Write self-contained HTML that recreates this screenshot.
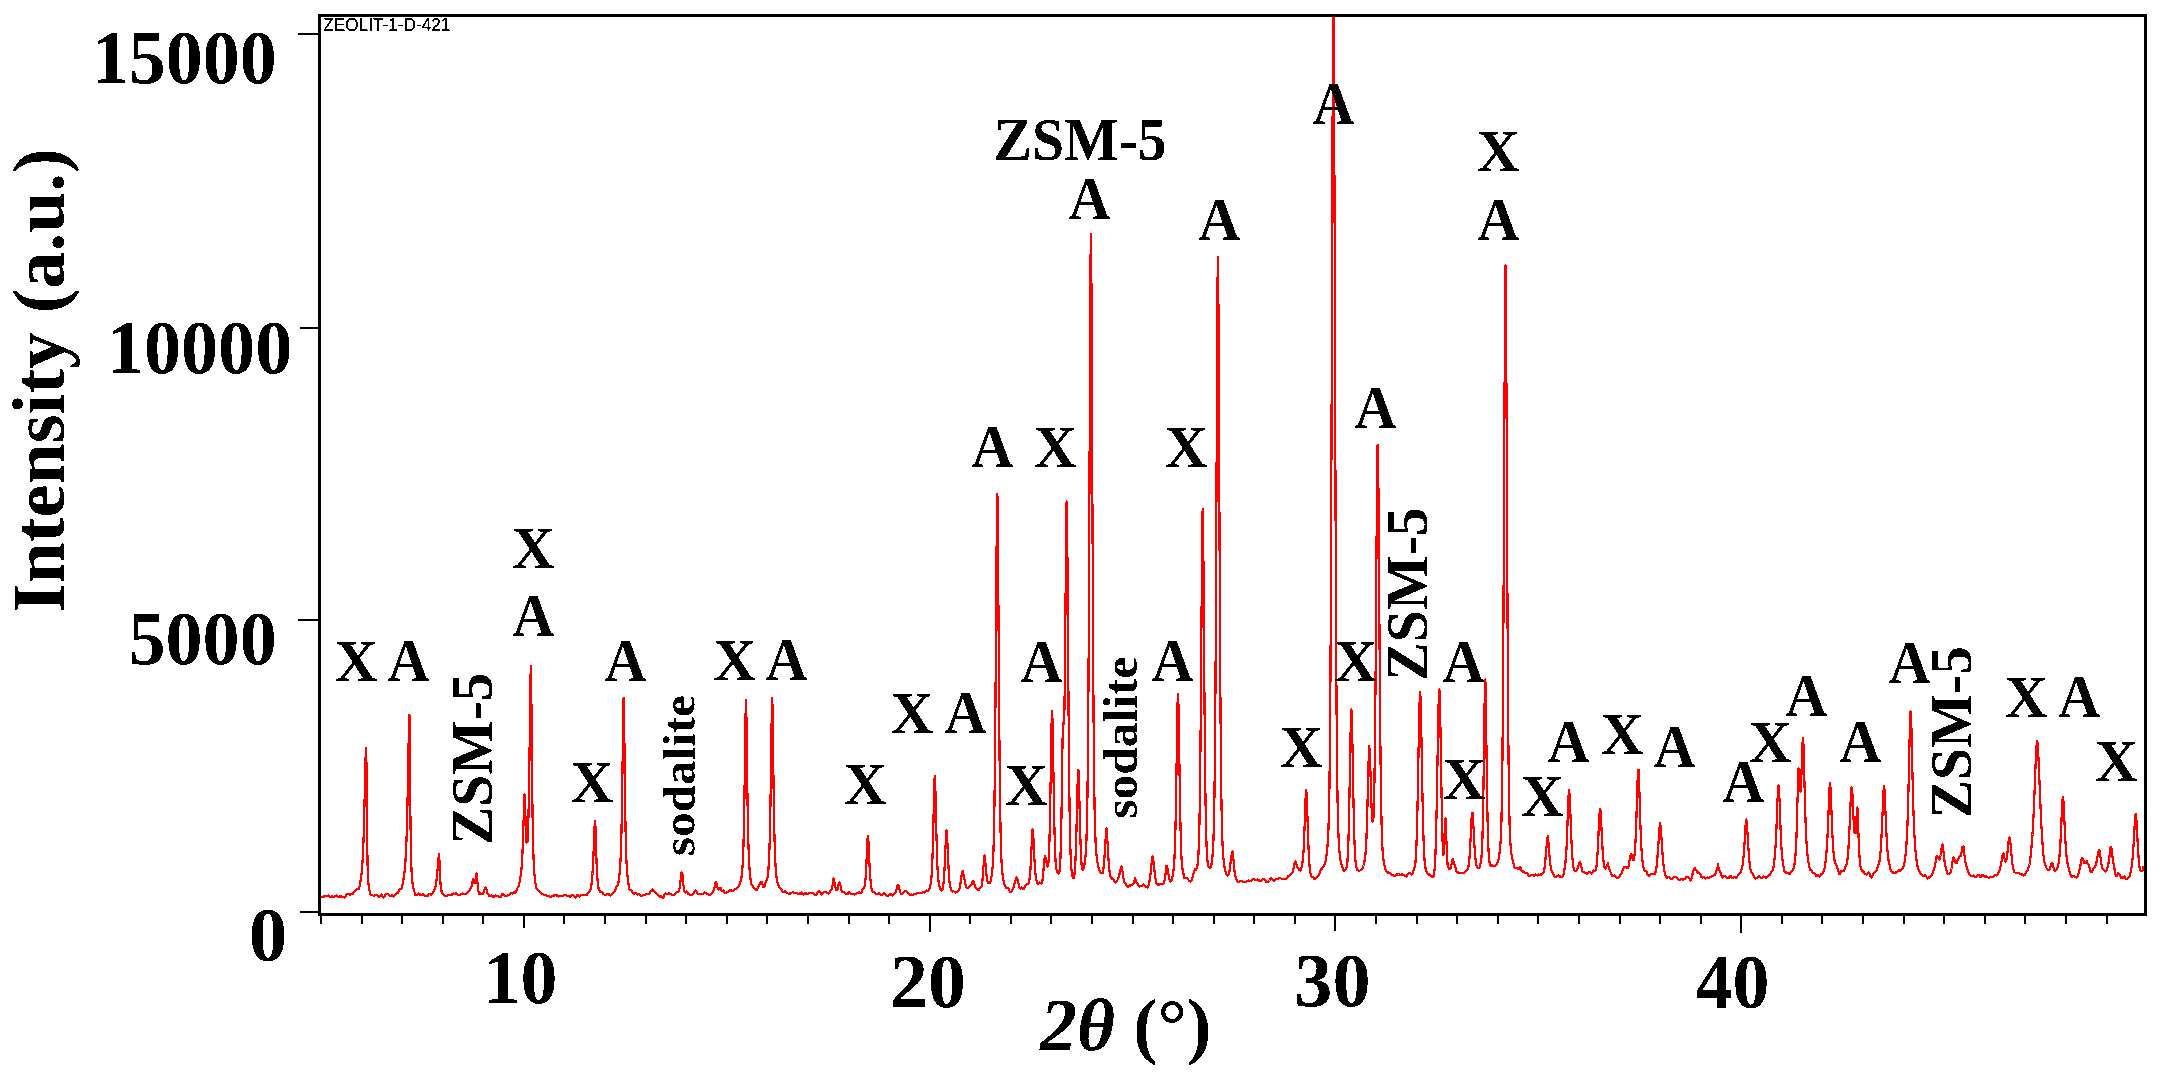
<!DOCTYPE html>
<html><head><meta charset="utf-8"><title>XRD pattern ZEOLIT-1-D-421</title>
<style>html,body{margin:0;padding:0;background:#fff}svg{display:block}
text{fill:#000}</style></head>
<body><svg width="2166" height="1082" viewBox="0 0 2166 1082">
<rect width="2166" height="1082" fill="#fff"/>
<clipPath id="pc"><rect x="321" y="17" width="1823" height="896"/></clipPath>
<polyline clip-path="url(#pc)" fill="none" stroke="#f00" stroke-width="2.2" stroke-linejoin="round" shape-rendering="crispEdges" points="321.5,897.8 322.5,896.9 323.5,896.6 324.5,896.7 325.5,896.2 326.5,896.3 327.5,895.9 328.5,895.6 329.5,897.0 330.5,897.3 331.5,896.3 332.5,896.5 333.5,896.9 334.5,896.5 335.5,895.7 336.5,895.5 337.5,896.5 338.5,897.0 339.5,896.2 340.5,896.0 341.5,897.2 342.5,896.9 343.5,896.8 344.5,897.6 345.5,896.1 346.5,894.4 347.5,893.7 348.5,893.8 349.5,894.9 350.5,894.6 351.5,894.2 352.5,894.0 353.5,892.9 354.5,891.8 355.5,890.3 356.5,889.1 357.5,888.9 358.5,889.2 359.5,886.9 360.5,881.4 361.5,874.2 362.5,862.3 363.5,840.7 364.5,804.1 365.5,759.0 366.2,748.1 366.5,768.2 367.5,863.1 368.5,884.7 369.5,890.7 370.5,894.4 371.5,895.3 372.5,895.3 373.5,895.7 374.5,895.6 375.5,895.0 376.5,895.0 377.5,895.9 378.5,896.8 379.5,897.0 380.5,895.6 381.5,894.5 382.5,896.0 383.5,897.4 384.5,896.1 385.5,894.6 386.5,894.2 387.5,894.4 388.5,894.5 389.5,895.1 390.5,896.0 391.5,895.6 392.5,895.5 393.5,896.5 394.5,896.0 395.5,894.4 396.5,893.7 397.5,893.2 398.5,891.1 399.5,889.2 400.5,889.3 401.5,888.3 402.5,884.6 403.5,879.2 404.5,872.3 405.5,860.7 406.5,839.9 407.5,803.1 408.5,747.7 409.4,714.9 409.5,718.4 410.5,825.2 411.5,870.8 412.5,883.3 413.5,888.2 414.5,892.0 415.5,895.1 416.5,895.2 417.5,894.1 418.5,893.6 419.5,894.0 420.5,895.0 421.5,894.9 422.5,894.2 423.5,894.6 424.5,895.3 425.5,896.0 426.5,896.3 427.5,896.1 428.5,894.8 429.5,894.1 430.5,894.6 431.5,894.9 432.5,893.3 433.5,891.1 434.5,889.7 435.5,886.8 436.5,880.2 437.5,870.1 438.5,858.1 439.0,854.3 439.5,861.9 440.5,883.9 441.5,891.1 442.5,893.4 443.5,895.0 444.5,895.6 445.5,895.9 446.5,896.3 447.5,895.7 448.5,894.9 449.5,894.7 450.5,895.0 451.5,895.0 452.5,894.0 453.5,893.6 454.5,894.3 455.5,893.6 456.5,893.5 457.5,894.7 458.5,895.3 459.5,895.4 460.5,894.7 461.5,893.7 462.5,893.6 463.5,894.1 464.5,894.3 465.5,893.9 466.5,893.3 467.5,892.7 468.5,891.9 469.5,890.4 470.5,888.9 471.5,886.2 472.5,882.2 472.8,879.3 473.5,881.1 474.5,883.2 475.5,879.4 476.5,873.1 477.5,883.2 478.5,891.4 479.5,894.2 480.5,893.6 481.5,894.2 482.5,894.3 483.5,892.1 484.5,889.1 485.5,887.5 486.5,889.8 487.5,893.3 488.5,895.0 489.5,896.0 490.5,896.2 491.5,895.5 492.5,895.9 493.5,897.0 494.5,896.4 495.5,895.5 496.5,895.9 497.5,896.1 498.5,896.3 499.5,896.9 500.5,897.1 501.5,895.7 502.5,893.7 503.5,894.1 504.5,895.5 505.5,896.0 506.5,896.2 507.5,895.5 508.5,894.8 509.5,894.9 510.5,893.3 511.5,892.8 512.5,893.6 513.5,892.6 514.5,892.5 515.5,892.7 516.5,890.3 517.5,888.0 518.5,886.4 519.5,882.4 520.5,876.7 521.5,869.0 522.5,852.8 523.5,823.2 524.5,795.8 524.6,794.4 525.5,818.8 526.5,842.9 527.5,841.4 528.5,815.8 529.5,756.1 530.5,677.0 530.9,665.6 531.5,709.4 532.5,813.2 533.5,858.0 534.5,875.3 535.5,883.7 536.5,888.3 537.5,889.8 538.5,890.3 539.5,891.2 540.5,892.9 541.5,893.9 542.5,893.8 543.5,894.4 544.5,895.3 545.5,895.0 546.5,895.1 547.5,896.0 548.5,896.1 549.5,896.4 550.5,897.3 551.5,897.0 552.5,895.7 553.5,895.4 554.5,895.8 555.5,895.1 556.5,894.8 557.5,896.2 558.5,896.8 559.5,896.1 560.5,895.9 561.5,896.4 562.5,896.0 563.5,895.1 564.5,894.8 565.5,895.2 566.5,895.7 567.5,896.0 568.5,896.3 569.5,896.6 570.5,896.6 571.5,895.6 572.5,894.9 573.5,895.7 574.5,896.9 575.5,897.4 576.5,896.2 577.5,894.7 578.5,895.8 579.5,896.9 580.5,895.9 581.5,895.0 582.5,895.0 583.5,894.9 584.5,895.0 585.5,895.2 586.5,895.2 587.5,893.9 588.5,892.1 589.5,891.5 590.5,889.4 591.5,883.9 592.5,873.5 593.5,854.2 594.5,827.2 595.0,821.2 595.5,827.2 596.5,861.2 597.5,880.2 598.5,888.1 599.5,891.0 600.5,892.0 601.5,891.7 602.5,892.3 603.5,894.2 604.5,894.8 605.5,894.8 606.5,894.8 607.5,893.6 608.5,893.6 609.5,895.2 610.5,895.5 611.5,894.6 612.5,893.8 613.5,892.3 614.5,891.1 615.5,889.2 616.5,886.8 617.5,885.4 618.5,882.2 619.5,874.6 620.5,861.2 621.5,831.9 622.5,769.3 623.5,698.3 623.7,698.0 624.5,748.6 625.5,828.2 626.5,862.8 627.5,875.7 628.5,883.8 629.5,889.2 630.5,890.0 631.5,890.4 632.5,892.4 633.5,893.8 634.5,893.6 635.5,892.8 636.5,893.2 637.5,894.6 638.5,894.3 639.5,894.0 640.5,895.7 641.5,896.1 642.5,895.2 643.5,895.0 644.5,895.0 645.5,894.1 646.5,893.8 647.5,894.1 648.5,893.8 649.5,893.3 650.5,892.0 651.5,890.1 652.4,889.3 652.5,890.4 653.5,891.0 654.5,891.8 655.5,892.9 656.5,893.4 657.5,894.3 658.5,895.5 659.5,896.6 660.5,896.6 661.5,896.3 662.5,897.8 663.5,897.8 664.5,894.8 665.5,893.1 666.5,894.1 667.5,894.1 668.5,893.1 669.5,893.9 670.5,894.4 671.5,894.2 672.5,895.2 673.5,895.3 674.5,894.4 675.5,893.7 676.5,892.8 677.5,891.9 678.5,891.5 679.5,889.0 680.5,881.6 681.5,872.0 681.9,872.6 682.5,874.9 683.5,885.6 684.5,891.7 685.5,892.4 686.5,891.4 687.5,892.3 688.5,894.1 689.5,894.6 690.5,894.8 691.5,895.1 692.5,894.3 693.5,893.5 694.5,892.0 695.5,890.6 696.5,891.6 697.5,893.3 698.5,894.0 699.5,894.2 700.5,894.1 701.5,894.4 702.5,894.3 703.5,893.4 704.5,892.6 705.5,892.8 706.5,893.9 707.5,894.3 708.5,894.6 709.5,895.3 710.5,894.7 711.5,893.5 712.5,892.2 713.5,890.1 714.5,887.6 715.5,882.6 716.0,881.8 716.5,883.1 717.5,887.7 718.5,889.5 719.5,889.2 720.5,887.9 721.5,890.9 722.5,890.7 723.5,890.6 724.5,892.3 725.5,893.3 726.5,892.6 727.5,892.3 728.5,891.7 729.5,890.2 730.5,890.1 731.5,890.9 732.5,891.3 733.5,890.6 734.5,889.7 735.5,889.2 736.5,888.4 737.5,887.9 738.5,886.6 739.5,884.4 740.5,881.7 741.5,877.2 742.5,867.2 743.5,844.9 744.5,794.7 745.5,717.4 746.0,699.9 746.5,720.4 747.5,800.2 748.5,848.0 749.5,868.7 750.5,879.4 751.5,884.5 752.5,885.8 753.5,887.0 754.5,888.4 755.5,889.5 756.5,890.3 757.5,889.0 758.5,886.3 759.5,884.7 760.5,882.7 761.2,882.5 761.5,881.7 762.5,884.4 763.5,887.4 764.5,886.8 765.5,882.9 766.5,880.7 767.5,877.7 768.5,868.9 769.5,848.5 770.5,803.0 771.5,728.1 772.2,698.0 772.5,706.9 773.5,782.1 774.5,839.2 775.5,865.5 776.5,876.9 777.5,882.7 778.5,885.6 779.5,887.2 780.5,888.4 781.5,889.4 782.5,891.4 783.5,892.1 784.5,891.3 785.5,891.4 786.5,892.0 787.5,893.3 788.5,893.7 789.5,893.4 790.5,893.5 791.5,892.8 792.5,892.2 793.5,892.4 794.5,892.8 795.5,893.1 796.5,893.1 797.5,893.3 798.5,894.2 799.5,894.4 800.5,892.9 801.5,892.5 802.5,894.1 803.5,894.8 804.5,893.5 805.5,892.7 806.5,894.1 807.5,894.4 808.5,893.1 809.5,893.3 810.5,893.4 811.5,893.2 812.5,893.4 813.5,893.2 814.5,894.2 815.5,895.2 816.5,894.3 817.5,892.6 818.5,891.6 819.5,891.4 820.5,892.6 821.5,894.4 822.5,893.9 823.5,892.4 824.5,891.9 825.5,892.2 826.5,892.4 827.5,892.9 828.5,893.7 829.5,892.3 830.5,890.6 831.5,889.2 832.5,885.4 833.5,880.2 833.6,878.5 834.5,882.0 835.5,887.8 836.5,890.3 837.5,889.2 838.5,885.0 839.5,882.1 839.6,883.5 840.5,885.7 841.5,890.7 842.5,892.3 843.5,892.1 844.5,892.6 845.5,893.1 846.5,894.0 847.5,894.1 848.5,892.5 849.5,892.1 850.5,893.5 851.5,894.2 852.5,894.3 853.5,894.4 854.5,894.4 855.5,894.2 856.5,893.4 857.5,893.0 858.5,892.3 859.5,892.2 860.5,893.1 861.5,892.1 862.5,889.5 863.5,888.2 864.5,886.9 865.5,879.7 866.5,862.1 867.5,839.0 868.0,835.6 868.5,842.4 869.5,864.9 870.5,880.6 871.5,888.2 872.5,891.2 873.5,892.1 874.5,892.4 875.5,893.2 876.5,893.9 877.5,894.1 878.5,893.1 879.5,893.1 880.5,894.5 881.5,895.1 882.5,894.1 883.5,893.2 884.5,893.2 885.5,894.1 886.5,895.5 887.5,895.8 888.5,895.3 889.5,894.3 890.5,893.8 891.5,895.0 892.5,895.5 893.5,894.4 894.5,893.3 895.5,892.1 896.5,889.1 897.5,885.6 897.9,885.0 898.5,885.0 899.5,889.5 900.5,893.0 901.5,894.3 902.5,893.7 903.5,892.7 904.5,891.7 905.5,890.7 906.5,891.4 907.5,892.6 908.5,893.1 909.5,894.5 910.5,894.9 911.5,894.4 912.5,894.7 913.5,894.6 914.5,894.2 915.5,893.8 916.5,893.4 917.5,892.9 918.5,892.8 919.5,892.6 920.5,892.6 921.5,893.0 922.5,892.6 923.5,892.3 924.5,892.5 925.5,891.7 926.5,890.5 927.5,890.8 928.5,890.3 929.5,888.1 930.5,884.6 931.5,876.9 932.5,857.8 933.5,819.1 934.5,779.8 934.8,776.2 935.5,793.3 936.5,837.6 937.5,868.1 938.5,881.6 939.5,886.5 940.5,889.3 941.5,890.6 942.5,889.2 943.5,883.6 944.5,869.6 945.5,846.7 946.5,830.2 946.6,830.6 947.5,844.1 948.5,867.2 949.5,881.8 950.5,887.6 951.5,890.2 952.5,891.5 953.5,891.2 954.5,891.8 955.5,892.7 956.5,892.1 957.5,891.1 958.5,890.7 959.5,889.0 960.5,883.3 961.5,875.8 962.5,870.9 962.8,871.1 963.5,874.4 964.5,879.9 965.5,884.4 966.5,887.4 967.5,888.1 968.5,887.3 969.5,886.2 970.5,885.5 971.5,884.1 972.5,881.9 972.8,881.3 973.5,881.7 974.5,884.5 975.5,887.4 976.5,888.9 977.5,889.9 978.5,890.1 979.5,888.8 980.5,887.9 981.5,886.6 982.5,879.9 983.5,866.2 984.5,854.9 984.7,857.6 985.5,863.6 986.5,875.1 987.5,881.4 988.5,883.2 989.5,883.4 990.5,881.5 991.5,876.6 992.5,868.6 993.5,850.8 994.5,803.0 995.5,699.3 996.5,554.7 997.3,493.9 997.5,498.1 998.5,615.8 999.5,751.6 1000.5,828.6 1001.5,861.8 1002.5,874.5 1003.5,880.2 1004.5,884.3 1005.5,886.9 1006.5,888.1 1007.5,888.0 1008.5,888.6 1009.5,891.0 1010.5,892.3 1011.5,891.4 1012.5,890.0 1013.5,887.3 1014.5,883.6 1015.5,880.7 1016.4,878.5 1016.5,877.3 1017.5,879.3 1018.5,883.4 1019.5,887.1 1020.5,888.4 1021.5,887.4 1022.5,887.8 1023.5,889.0 1024.5,887.8 1025.5,885.9 1026.5,884.6 1027.5,884.2 1028.5,883.7 1029.5,879.5 1030.5,868.6 1031.5,848.4 1032.5,829.8 1032.7,829.6 1033.5,839.2 1034.5,860.6 1035.5,874.7 1036.5,881.0 1037.5,883.9 1038.5,883.6 1039.5,882.4 1040.5,883.1 1041.5,883.8 1042.5,880.3 1043.5,869.8 1044.5,858.5 1045.1,855.6 1045.5,857.2 1046.5,862.7 1047.5,866.6 1048.5,862.2 1049.5,840.3 1050.5,789.5 1051.5,726.3 1052.1,711.3 1052.5,719.8 1053.5,776.7 1054.5,831.5 1055.5,860.4 1056.5,870.0 1057.5,872.8 1058.5,873.9 1059.5,871.3 1060.5,857.3 1061.5,815.1 1062.5,743.0 1062.9,725.9 1063.5,724.2 1064.5,708.2 1065.5,605.6 1066.5,503.3 1066.7,501.3 1067.5,563.4 1068.5,704.6 1069.5,806.1 1070.5,853.4 1071.5,870.2 1072.5,876.4 1073.5,878.2 1074.5,874.0 1075.5,859.4 1076.5,829.0 1077.5,787.1 1078.3,770.2 1078.5,770.4 1079.5,803.9 1080.5,842.6 1081.5,863.9 1082.5,870.1 1083.5,868.8 1084.5,864.3 1085.5,856.5 1086.5,839.8 1087.5,794.7 1088.5,683.1 1089.5,477.1 1090.5,262.1 1090.9,234.2 1091.5,291.1 1092.5,523.4 1093.5,712.6 1094.5,805.5 1095.5,840.8 1096.5,855.0 1097.5,862.9 1098.5,867.8 1099.5,870.7 1100.5,872.4 1101.5,873.3 1102.5,873.2 1103.5,868.8 1104.5,857.3 1105.5,840.4 1106.5,828.6 1107.5,841.7 1108.5,859.6 1109.5,870.9 1110.5,876.4 1111.5,878.5 1112.5,878.6 1113.5,879.5 1114.5,881.4 1115.5,882.4 1116.5,881.9 1117.5,880.1 1118.5,877.7 1119.5,874.2 1120.5,869.1 1121.3,866.8 1121.5,866.6 1122.5,871.6 1123.5,878.7 1124.5,882.8 1125.5,883.7 1126.5,885.2 1127.5,886.9 1128.5,886.4 1129.5,885.6 1130.5,885.5 1131.5,884.7 1132.5,884.4 1133.5,884.0 1134.5,880.6 1135.2,878.1 1135.5,879.0 1136.5,882.5 1137.5,883.9 1138.5,885.5 1139.5,886.6 1140.5,886.1 1141.5,886.0 1142.5,885.2 1143.5,884.4 1144.5,885.3 1145.5,886.1 1146.5,887.1 1147.5,887.5 1148.5,885.2 1149.5,881.0 1150.5,874.1 1151.5,863.9 1152.5,856.3 1153.5,861.6 1154.5,871.3 1155.5,878.8 1156.5,883.6 1157.5,885.0 1158.5,884.6 1159.5,884.5 1160.5,884.4 1161.5,884.2 1162.5,883.9 1163.5,883.4 1164.5,880.9 1165.5,873.9 1166.5,865.7 1166.9,865.6 1167.5,868.2 1168.5,874.6 1169.5,879.3 1170.5,881.7 1171.5,880.7 1172.5,876.4 1173.5,870.1 1174.5,857.7 1175.5,827.8 1176.5,769.8 1177.5,704.8 1178.0,694.2 1178.5,706.2 1179.5,769.5 1180.5,827.2 1181.5,858.1 1182.5,868.9 1183.5,874.0 1184.5,878.2 1185.5,878.3 1186.5,877.7 1187.5,878.6 1188.5,880.0 1189.5,881.3 1190.5,881.5 1191.5,880.3 1192.5,877.2 1193.5,873.2 1194.5,870.6 1195.0,868.9 1195.5,870.0 1196.5,868.9 1197.5,865.7 1198.5,854.3 1199.5,821.9 1200.5,745.5 1201.5,618.2 1202.5,513.0 1202.7,509.1 1203.5,567.6 1204.5,704.3 1205.5,801.4 1206.5,845.4 1207.5,861.3 1208.5,866.4 1209.5,867.9 1210.5,867.5 1211.5,864.2 1212.5,856.3 1213.5,839.1 1214.5,794.6 1215.5,685.0 1216.5,486.5 1217.5,285.2 1217.9,256.7 1218.5,311.3 1219.5,529.9 1220.5,713.0 1221.5,806.9 1222.5,844.6 1223.5,859.6 1224.5,867.0 1225.5,871.5 1226.5,874.1 1227.5,875.4 1228.5,874.9 1229.5,871.1 1230.5,863.4 1231.5,855.2 1232.3,851.4 1232.5,851.8 1233.5,859.9 1234.5,871.0 1235.5,876.7 1236.5,879.3 1237.5,881.4 1238.5,882.0 1239.5,881.4 1240.5,880.9 1241.5,881.2 1242.5,881.7 1243.5,882.0 1244.5,882.4 1245.5,882.1 1246.5,881.5 1247.5,880.8 1248.5,880.2 1249.5,880.9 1250.5,881.2 1251.5,880.1 1252.5,879.5 1253.5,879.4 1254.5,879.3 1255.5,880.0 1256.5,880.0 1257.5,879.3 1258.5,879.9 1259.5,881.1 1260.5,881.4 1261.5,880.9 1262.5,879.8 1263.5,879.1 1264.5,879.4 1265.5,880.9 1266.5,882.3 1267.5,882.3 1268.5,881.9 1269.5,880.5 1270.5,878.5 1271.5,878.3 1272.5,879.3 1273.5,880.8 1274.5,880.8 1275.5,879.3 1276.5,879.0 1277.5,879.2 1278.5,878.5 1279.5,877.8 1280.5,878.3 1281.5,878.7 1282.5,878.7 1283.5,879.1 1284.5,879.2 1285.5,879.4 1286.5,879.0 1287.5,877.0 1288.5,876.0 1289.5,875.9 1290.5,874.6 1291.5,873.6 1292.5,872.6 1293.5,869.0 1294.5,863.2 1295.5,861.1 1296.5,864.2 1297.5,867.7 1298.5,868.7 1299.5,870.3 1300.5,870.5 1301.5,867.2 1302.5,862.6 1303.5,852.3 1304.5,829.2 1305.5,800.1 1306.2,790.2 1306.5,792.4 1307.5,818.6 1308.5,848.0 1309.5,865.7 1310.5,873.9 1311.5,876.6 1312.5,876.7 1313.5,877.6 1314.5,879.2 1315.5,878.8 1316.5,877.1 1317.5,876.1 1318.5,875.6 1319.5,873.7 1320.5,870.7 1321.5,868.2 1321.7,869.5 1322.5,868.0 1323.5,866.4 1324.5,864.8 1325.5,861.8 1326.5,855.4 1327.5,845.8 1328.5,828.3 1329.5,785.0 1330.5,673.0 1331.5,442.0 1332.5,132.0 1333.4,15.5 1333.5,15.5 1334.5,190.4 1335.5,497.9 1336.5,703.5 1337.5,798.8 1338.5,835.9 1339.5,852.2 1340.5,860.3 1341.5,864.1 1342.5,867.5 1343.5,870.8 1344.5,870.9 1345.5,869.2 1346.5,867.8 1347.5,861.0 1348.5,839.3 1349.5,794.0 1350.5,735.3 1351.4,709.4 1351.5,711.1 1352.5,746.9 1353.5,802.9 1354.5,843.3 1355.5,861.4 1356.5,867.7 1357.5,870.1 1358.5,870.8 1359.5,870.7 1360.5,870.3 1361.5,869.6 1362.5,868.4 1363.5,865.5 1364.5,861.0 1365.5,853.9 1366.5,837.0 1367.5,803.7 1368.5,763.4 1369.3,746.3 1369.5,748.7 1370.5,773.4 1371.5,805.9 1372.5,821.8 1373.5,817.5 1374.5,779.5 1375.5,687.2 1376.5,547.8 1377.5,446.1 1377.7,445.1 1378.5,493.7 1379.5,636.4 1380.5,757.3 1381.5,821.9 1382.5,849.4 1383.5,860.6 1384.5,865.8 1385.5,869.2 1386.5,871.1 1387.5,872.1 1388.5,872.9 1389.5,872.9 1390.5,873.1 1391.5,874.5 1392.5,875.3 1393.5,875.2 1394.5,875.9 1395.5,875.6 1396.5,874.4 1397.5,874.4 1398.5,874.5 1399.5,874.5 1400.5,874.9 1401.5,874.5 1402.5,874.6 1403.5,875.3 1404.5,875.5 1405.5,876.2 1406.5,876.5 1407.5,875.0 1408.5,873.6 1409.5,872.9 1410.5,873.6 1411.5,874.5 1412.5,873.3 1413.5,870.6 1414.5,868.0 1415.5,861.9 1416.5,844.3 1417.5,807.8 1418.5,753.4 1419.5,704.4 1420.1,691.9 1420.5,697.6 1421.5,741.3 1422.5,797.7 1423.5,838.8 1424.5,859.7 1425.5,868.0 1426.5,871.3 1427.5,873.6 1428.5,874.8 1429.5,874.6 1430.5,875.2 1431.5,876.8 1432.5,877.3 1433.5,876.1 1434.5,870.8 1435.5,853.3 1436.5,816.1 1437.5,761.1 1438.5,707.0 1439.3,689.5 1439.5,691.2 1440.5,730.7 1441.5,792.1 1442.5,840.7 1443.5,855.2 1444.5,835.2 1445.4,819.4 1445.5,818.5 1446.5,842.8 1447.5,864.0 1448.5,867.8 1449.5,869.1 1450.5,868.5 1451.5,864.8 1452.5,859.9 1453.1,858.6 1453.5,861.8 1454.5,864.2 1455.5,867.2 1456.5,871.5 1457.5,872.8 1458.5,872.3 1459.5,872.8 1460.5,872.8 1461.5,873.1 1462.5,873.3 1463.5,872.9 1464.5,872.6 1465.5,871.8 1466.5,871.0 1467.5,869.4 1468.5,866.3 1469.5,858.2 1470.5,840.3 1471.5,819.4 1472.3,813.2 1472.5,812.8 1473.5,826.9 1474.5,846.4 1475.5,859.6 1476.5,865.4 1477.5,867.2 1478.5,868.1 1479.5,867.3 1480.5,863.9 1481.5,857.1 1482.5,836.9 1483.5,785.3 1484.5,707.9 1485.2,679.4 1485.5,683.6 1486.5,750.6 1487.5,817.6 1488.5,850.9 1489.5,862.3 1490.5,865.7 1491.5,865.6 1492.5,865.5 1493.5,866.3 1494.5,866.4 1495.5,865.7 1496.5,864.5 1497.5,862.6 1498.5,859.4 1499.5,853.6 1500.5,843.3 1501.5,819.6 1502.5,754.7 1503.5,611.2 1504.5,397.4 1505.5,265.6 1506.5,394.6 1507.5,612.6 1508.5,758.0 1509.5,821.9 1510.5,845.1 1511.5,854.8 1512.5,859.8 1513.5,863.9 1514.5,867.5 1515.5,868.2 1516.5,868.0 1517.5,868.7 1518.5,869.3 1519.5,868.2 1519.7,866.8 1520.5,867.7 1521.5,870.4 1522.5,871.5 1523.5,871.5 1524.5,872.6 1525.5,873.0 1526.5,872.7 1527.5,873.5 1528.5,875.4 1529.5,876.3 1530.5,875.7 1531.5,875.0 1532.5,874.8 1533.5,875.6 1534.5,875.6 1535.5,874.4 1536.5,874.9 1537.5,875.4 1538.5,874.4 1539.5,874.8 1540.5,875.1 1541.5,873.8 1542.5,873.4 1543.5,872.9 1544.5,868.4 1545.5,858.9 1546.5,846.7 1547.5,837.8 1547.7,836.1 1548.5,843.1 1549.5,855.8 1550.5,865.7 1551.5,870.3 1552.5,872.7 1553.5,874.7 1554.5,876.6 1555.5,877.2 1556.5,876.4 1557.5,876.1 1558.5,875.5 1559.5,875.8 1560.5,877.1 1561.5,877.2 1562.5,876.7 1563.5,874.5 1564.5,868.9 1565.5,861.9 1566.5,849.0 1567.5,823.3 1568.5,795.6 1569.1,790.2 1569.5,793.2 1570.5,816.2 1571.5,842.4 1572.5,859.5 1573.5,867.7 1574.5,870.8 1575.5,871.0 1576.5,870.3 1577.5,868.6 1578.5,865.4 1579.5,862.8 1579.6,861.8 1580.5,863.1 1581.5,867.5 1582.5,871.2 1583.5,872.2 1584.5,872.5 1585.5,872.9 1586.5,873.7 1587.5,873.5 1588.5,872.4 1589.5,872.0 1590.5,872.6 1591.5,873.6 1592.5,872.6 1593.5,870.6 1594.5,870.7 1595.5,870.7 1596.5,866.5 1597.5,854.4 1598.5,833.9 1599.5,813.9 1600.1,808.7 1600.5,810.9 1601.5,828.6 1602.5,848.2 1603.5,861.2 1604.5,868.0 1605.5,868.9 1606.5,866.3 1607.5,864.3 1607.8,863.1 1608.5,866.5 1609.5,869.6 1610.5,872.0 1611.5,874.5 1612.5,876.4 1613.5,876.2 1614.5,875.6 1615.5,876.4 1616.5,877.5 1617.5,878.3 1618.5,877.9 1619.5,876.1 1620.5,874.8 1621.5,873.5 1622.5,870.9 1623.5,868.5 1624.5,866.8 1625.5,867.3 1626.5,867.6 1627.5,868.2 1628.5,866.5 1629.5,860.4 1630.5,855.4 1630.8,854.3 1631.5,854.8 1632.5,858.4 1633.5,860.3 1634.5,855.6 1635.5,841.7 1636.5,815.3 1637.5,782.0 1638.3,770.0 1638.5,769.8 1639.5,794.4 1640.5,827.5 1641.5,849.6 1642.5,860.8 1643.5,867.2 1644.5,870.4 1645.5,871.0 1646.5,871.8 1647.5,874.2 1648.5,875.7 1649.5,875.7 1650.5,874.8 1651.5,873.9 1652.5,873.7 1653.5,874.3 1654.5,874.4 1655.5,872.1 1656.5,866.9 1657.5,857.2 1658.5,842.5 1659.5,827.5 1660.2,823.2 1660.5,825.3 1661.5,837.7 1662.5,853.2 1663.5,864.9 1664.5,871.2 1665.5,875.4 1666.5,877.6 1667.5,877.8 1668.5,877.1 1669.5,877.3 1670.5,879.0 1671.5,879.2 1672.5,878.3 1673.5,877.6 1674.5,877.1 1675.5,877.1 1676.5,877.6 1677.5,878.4 1678.5,879.2 1679.5,879.9 1680.5,879.5 1681.5,878.8 1682.5,879.3 1683.5,879.8 1684.5,879.1 1685.5,878.1 1686.5,876.6 1687.5,876.6 1688.5,877.7 1689.5,878.9 1690.5,880.6 1691.5,879.0 1692.5,873.9 1693.5,870.1 1694.5,868.8 1695.2,867.6 1695.5,869.7 1696.5,870.5 1697.5,872.0 1698.5,873.0 1699.5,873.3 1700.5,874.8 1701.5,877.3 1702.5,877.7 1703.5,876.8 1704.5,877.7 1705.5,878.9 1706.5,878.1 1707.5,877.5 1708.5,877.9 1709.5,877.9 1710.5,877.1 1711.5,876.3 1712.5,876.0 1713.5,875.7 1714.5,875.0 1715.5,873.9 1716.5,870.9 1717.5,867.5 1718.1,864.3 1718.5,867.7 1719.5,870.3 1720.5,872.9 1721.5,875.5 1722.5,877.4 1723.5,876.6 1724.5,875.7 1725.5,876.1 1726.5,877.1 1727.5,878.1 1728.5,878.1 1729.5,876.7 1730.5,875.8 1731.5,877.1 1732.5,878.1 1733.5,877.4 1734.5,877.1 1735.5,877.7 1736.5,877.9 1737.5,876.0 1738.5,874.0 1739.5,873.5 1740.5,872.1 1741.5,869.6 1742.5,865.9 1743.5,857.6 1744.5,843.7 1745.5,826.4 1746.3,819.4 1746.5,821.1 1747.5,832.8 1748.5,849.3 1749.5,862.4 1750.5,869.7 1751.5,872.3 1752.5,873.8 1753.5,875.9 1754.5,877.9 1755.5,878.7 1756.5,877.9 1757.5,877.3 1758.5,876.6 1759.5,876.3 1760.5,877.7 1761.5,878.2 1762.5,877.1 1763.5,876.3 1764.5,877.0 1765.5,877.8 1766.5,877.5 1767.5,876.7 1768.5,875.9 1769.5,875.1 1770.5,873.1 1771.5,871.0 1772.5,870.4 1773.5,867.1 1774.5,859.2 1775.5,847.4 1776.5,827.1 1777.5,799.4 1778.5,785.2 1779.5,798.8 1780.5,827.8 1781.5,849.0 1782.5,859.8 1783.5,866.8 1784.5,871.5 1785.5,872.6 1786.5,872.4 1787.5,872.8 1788.5,873.6 1789.5,874.0 1790.5,873.0 1791.5,871.7 1792.5,870.8 1793.5,868.7 1794.5,864.2 1795.5,855.0 1796.5,836.0 1797.5,800.3 1798.5,768.2 1799.5,781.6 1800.5,792.1 1801.5,773.2 1802.5,743.3 1803.0,738.3 1803.5,745.4 1804.5,783.9 1805.5,820.3 1806.5,842.8 1807.5,855.4 1808.5,862.8 1809.5,868.0 1810.5,870.1 1811.5,870.3 1812.5,872.4 1813.5,873.2 1814.5,873.1 1815.5,874.9 1816.5,876.1 1817.5,875.5 1818.5,875.5 1819.5,876.4 1820.5,875.4 1821.5,874.0 1822.5,873.8 1823.5,872.0 1824.5,868.9 1825.5,862.7 1826.5,852.3 1827.5,837.1 1828.5,812.7 1829.5,788.1 1830.0,783.2 1830.5,787.3 1831.5,811.9 1832.5,836.6 1833.5,852.1 1834.5,860.2 1835.5,863.5 1836.5,865.6 1837.5,868.0 1838.5,871.7 1839.5,874.2 1840.5,872.8 1841.5,870.9 1842.5,871.0 1843.5,871.2 1844.5,869.5 1845.5,866.8 1846.5,864.3 1847.5,859.1 1848.5,847.9 1849.5,828.6 1850.5,804.5 1851.5,787.2 1851.7,787.5 1852.5,795.4 1853.5,818.0 1854.5,832.9 1855.5,833.3 1856.5,817.6 1857.3,807.5 1857.5,808.9 1858.5,834.8 1859.5,857.3 1860.5,866.6 1861.5,869.7 1862.5,871.1 1863.5,871.9 1864.5,873.1 1865.5,874.3 1866.5,874.7 1867.5,873.3 1868.5,872.2 1869.5,873.7 1870.5,876.2 1871.5,877.5 1872.5,875.9 1873.5,873.5 1874.5,872.3 1875.5,871.5 1876.5,870.3 1877.5,867.8 1878.5,864.7 1879.5,861.1 1880.5,852.5 1881.5,836.5 1882.5,814.1 1883.5,791.9 1884.0,785.5 1884.5,789.6 1885.5,812.5 1886.5,835.4 1887.5,851.4 1888.5,860.2 1889.5,864.9 1890.5,869.2 1891.5,871.7 1892.5,872.1 1893.5,872.9 1894.5,872.8 1895.5,872.3 1896.5,872.8 1897.5,871.9 1898.5,870.6 1899.5,870.4 1900.5,870.5 1901.5,870.0 1902.5,868.7 1903.5,867.0 1904.5,862.6 1905.5,854.9 1906.5,843.8 1907.5,823.9 1908.5,789.1 1909.5,742.9 1910.5,711.3 1910.7,712.0 1911.5,730.1 1912.5,775.4 1913.5,813.0 1914.5,836.7 1915.5,851.0 1916.5,859.8 1917.5,866.0 1918.5,869.5 1919.5,871.5 1920.5,873.4 1921.5,874.7 1922.5,875.6 1923.5,875.9 1924.5,875.3 1925.5,875.3 1926.5,877.0 1927.5,878.6 1928.5,878.1 1929.5,877.0 1930.5,876.2 1931.5,875.2 1932.5,873.5 1933.5,870.6 1934.5,867.1 1935.5,862.6 1936.5,858.2 1936.6,855.7 1937.5,856.6 1938.5,858.8 1939.5,859.6 1940.5,855.5 1941.5,848.2 1942.4,844.2 1942.5,844.9 1943.5,852.1 1944.5,860.9 1945.5,866.5 1946.5,870.8 1947.5,873.4 1948.5,874.2 1949.5,873.4 1950.5,872.2 1951.5,868.5 1952.5,861.5 1953.5,857.1 1954.0,858.9 1954.5,859.5 1955.5,862.6 1956.5,863.2 1957.5,861.0 1958.5,858.4 1959.0,857.9 1959.5,856.6 1960.5,856.3 1961.5,852.9 1962.5,846.7 1963.2,847.2 1963.5,846.4 1964.5,855.3 1965.5,862.4 1966.5,866.5 1967.5,869.9 1968.5,872.2 1969.5,874.1 1970.5,875.6 1971.5,876.1 1972.5,876.0 1973.5,875.6 1974.5,876.3 1975.5,877.1 1976.5,876.8 1977.5,875.6 1978.5,874.8 1979.5,875.7 1980.5,877.1 1981.5,876.3 1982.5,874.7 1983.5,875.4 1984.5,876.7 1985.5,876.6 1986.5,876.5 1987.5,877.2 1988.5,877.8 1989.5,877.4 1990.5,876.9 1991.5,876.7 1992.5,876.7 1993.5,876.6 1994.5,875.4 1995.5,875.1 1996.5,875.6 1997.5,874.3 1998.5,872.6 1999.5,870.5 2000.5,866.8 2001.5,861.4 2002.5,855.5 2003.1,854.6 2003.5,853.2 2004.5,858.1 2005.5,861.8 2006.5,859.7 2007.5,852.1 2008.5,841.7 2009.5,837.5 2010.5,844.0 2011.5,855.2 2012.5,864.4 2013.5,869.8 2014.5,872.2 2015.5,872.8 2016.5,872.9 2017.5,873.3 2018.1,873.2 2018.5,873.4 2019.5,873.2 2020.5,874.1 2021.5,874.5 2022.5,874.4 2023.5,875.5 2024.5,875.3 2025.5,873.3 2026.5,871.6 2027.5,870.1 2028.5,867.8 2029.5,864.5 2030.5,857.1 2031.5,846.8 2032.5,834.5 2033.5,816.5 2034.5,792.7 2035.5,766.8 2036.5,746.1 2037.2,741.1 2037.5,743.2 2038.5,758.3 2039.5,782.2 2040.5,806.3 2041.5,827.4 2042.5,843.9 2043.5,855.7 2044.5,862.3 2045.5,865.2 2046.5,868.0 2047.5,870.0 2048.5,870.3 2049.5,869.5 2050.5,866.9 2051.5,863.4 2052.2,863.2 2052.5,863.9 2053.5,867.9 2054.5,870.8 2055.5,870.4 2056.5,869.2 2057.5,867.5 2058.5,863.9 2059.5,856.2 2060.5,841.5 2061.5,819.8 2062.5,799.2 2063.0,797.4 2063.5,801.6 2064.5,822.3 2065.5,842.4 2066.5,855.7 2067.5,863.1 2068.5,867.9 2069.5,871.7 2070.5,874.3 2071.5,876.4 2072.5,876.7 2073.5,876.2 2074.5,876.5 2075.5,877.0 2076.5,877.6 2077.5,876.3 2078.5,873.5 2079.5,869.9 2080.5,865.0 2081.5,859.3 2082.2,857.7 2082.5,858.0 2083.5,860.9 2084.5,863.3 2085.5,863.2 2086.5,861.2 2087.2,860.7 2087.5,863.5 2088.5,864.9 2089.5,867.5 2090.5,871.2 2091.5,872.3 2092.5,870.6 2093.5,868.8 2094.5,867.7 2095.5,865.8 2096.5,862.0 2097.5,856.7 2098.5,851.9 2099.0,849.6 2099.5,850.7 2100.5,857.4 2101.5,864.8 2102.5,869.0 2103.5,869.9 2104.5,870.3 2105.5,871.5 2106.5,870.6 2107.5,867.3 2108.5,863.2 2109.5,855.8 2110.5,847.3 2110.8,847.2 2111.5,848.0 2112.5,856.8 2113.5,863.8 2114.5,868.8 2115.5,874.2 2116.5,876.2 2117.5,874.0 2118.5,873.0 2119.5,874.6 2120.5,876.7 2121.5,878.2 2122.5,878.3 2123.5,877.0 2124.5,876.5 2125.5,878.2 2126.5,879.1 2127.5,878.2 2128.5,877.6 2129.5,876.2 2130.5,872.9 2131.5,867.8 2132.5,859.5 2133.5,846.0 2134.5,828.0 2135.5,814.4 2135.7,814.1 2136.5,820.9 2137.5,840.2 2138.5,857.0 2139.5,867.3 2140.5,871.0 2141.5,871.3 2142.5,870.3 2143.5,866.4"/>
<g fill="#000" shape-rendering="crispEdges">
<rect x="318" y="14" width="3" height="902"/>
<rect x="318" y="14" width="1829" height="3"/>
<rect x="2144" y="14" width="3" height="902"/>
<rect x="318" y="913" width="1829" height="3"/>
<rect x="298" y="33" width="20" height="2"/>
<rect x="300" y="327" width="18" height="2"/>
<rect x="298" y="619" width="20" height="2"/>
<rect x="300" y="911" width="18" height="2"/>
<rect x="320" y="916" width="2" height="8"/>
<rect x="361" y="916" width="2" height="8"/>
<rect x="401" y="916" width="2" height="8"/>
<rect x="442" y="916" width="2" height="8"/>
<rect x="482" y="916" width="2" height="8"/>
<rect x="523" y="916" width="2" height="11.5"/>
<rect x="563" y="916" width="2" height="8"/>
<rect x="604" y="916" width="2" height="8"/>
<rect x="645" y="916" width="2" height="8"/>
<rect x="685" y="916" width="2" height="8"/>
<rect x="726" y="916" width="2" height="8"/>
<rect x="766" y="916" width="2" height="8"/>
<rect x="807" y="916" width="2" height="8"/>
<rect x="848" y="916" width="2" height="8"/>
<rect x="888" y="916" width="2" height="8"/>
<rect x="929" y="916" width="2" height="16"/>
<rect x="969" y="916" width="2" height="8"/>
<rect x="1010" y="916" width="2" height="8"/>
<rect x="1050" y="916" width="2" height="8"/>
<rect x="1091" y="916" width="2" height="8"/>
<rect x="1132" y="916" width="2" height="8"/>
<rect x="1172" y="916" width="2" height="8"/>
<rect x="1213" y="916" width="2" height="8"/>
<rect x="1253" y="916" width="2" height="8"/>
<rect x="1294" y="916" width="2" height="8"/>
<rect x="1334" y="916" width="2" height="14.5"/>
<rect x="1375" y="916" width="2" height="8"/>
<rect x="1416" y="916" width="2" height="8"/>
<rect x="1456" y="916" width="2" height="8"/>
<rect x="1497" y="916" width="2" height="8"/>
<rect x="1537" y="916" width="2" height="8"/>
<rect x="1578" y="916" width="2" height="8"/>
<rect x="1619" y="916" width="2" height="8"/>
<rect x="1659" y="916" width="2" height="8"/>
<rect x="1700" y="916" width="2" height="8"/>
<rect x="1740" y="916" width="2" height="16.5"/>
<rect x="1781" y="916" width="2" height="8"/>
<rect x="1821" y="916" width="2" height="8"/>
<rect x="1862" y="916" width="2" height="8"/>
<rect x="1903" y="916" width="2" height="8"/>
<rect x="1943" y="916" width="2" height="8"/>
<rect x="1984" y="916" width="2" height="8"/>
<rect x="2024" y="916" width="2" height="8"/>
<rect x="2065" y="916" width="2" height="8"/>
<rect x="2106" y="916" width="2" height="8"/>
</g>
<filter id="bin" x="0" y="0" width="2166" height="1082" filterUnits="userSpaceOnUse" color-interpolation-filters="sRGB"><feComponentTransfer><feFuncA type="discrete" tableValues="0 1"/></feComponentTransfer></filter>
<filter id="bin2" x="300" y="0" width="200" height="50" filterUnits="userSpaceOnUse" color-interpolation-filters="sRGB"><feComponentTransfer><feFuncA type="discrete" tableValues="0 1 1"/></feComponentTransfer></filter>
<g filter="url(#bin2)"><text transform="translate(323.23,31.02) scale(0.1722,0.1825)" font-size="100" font-family="'Liberation Sans',sans-serif">ZEOLIT-1-D-421</text></g>
<g font-family="'Liberation Serif',serif" font-weight="bold" filter="url(#bin)">
<text transform="translate(334.86,681.20) scale(0.5942,0.5924)" font-size="100">X</text>
<text transform="translate(511.81,567.90) scale(0.5942,0.5924)" font-size="100">X</text>
<text transform="translate(570.56,801.50) scale(0.5942,0.5924)" font-size="100">X</text>
<text transform="translate(713.21,680.20) scale(0.5942,0.5924)" font-size="100">X</text>
<text transform="translate(843.66,803.50) scale(0.5942,0.5924)" font-size="100">X</text>
<text transform="translate(890.41,733.20) scale(0.5942,0.5924)" font-size="100">X</text>
<text transform="translate(1005.11,804.80) scale(0.5942,0.5924)" font-size="100">X</text>
<text transform="translate(1033.66,467.10) scale(0.5942,0.5924)" font-size="100">X</text>
<text transform="translate(1164.71,467.10) scale(0.5942,0.5924)" font-size="100">X</text>
<text transform="translate(1279.76,766.80) scale(0.5942,0.5924)" font-size="100">X</text>
<text transform="translate(1334.16,680.90) scale(0.5942,0.5924)" font-size="100">X</text>
<text transform="translate(1442.81,799.20) scale(0.5942,0.5924)" font-size="100">X</text>
<text transform="translate(1476.81,171.10) scale(0.5942,0.5924)" font-size="100">X</text>
<text transform="translate(1520.81,815.90) scale(0.5942,0.5924)" font-size="100">X</text>
<text transform="translate(1600.81,754.20) scale(0.5942,0.5924)" font-size="100">X</text>
<text transform="translate(1748.71,761.70) scale(0.5942,0.5924)" font-size="100">X</text>
<text transform="translate(2004.81,717.00) scale(0.5942,0.5924)" font-size="100">X</text>
<text transform="translate(2094.91,781.00) scale(0.5942,0.5924)" font-size="100">X</text>
<text transform="translate(387.57,681.20) scale(0.5844,0.6061)" font-size="100">A</text>
<text transform="translate(512.37,636.00) scale(0.5844,0.6061)" font-size="100">A</text>
<text transform="translate(604.57,681.00) scale(0.5844,0.6061)" font-size="100">A</text>
<text transform="translate(765.42,680.20) scale(0.5844,0.6061)" font-size="100">A</text>
<text transform="translate(944.52,733.20) scale(0.5844,0.6061)" font-size="100">A</text>
<text transform="translate(971.22,467.10) scale(0.5844,0.6061)" font-size="100">A</text>
<text transform="translate(1020.47,681.60) scale(0.5844,0.6061)" font-size="100">A</text>
<text transform="translate(1068.52,219.10) scale(0.5844,0.6061)" font-size="100">A</text>
<text transform="translate(1151.52,680.90) scale(0.5844,0.6061)" font-size="100">A</text>
<text transform="translate(1198.32,239.60) scale(0.5844,0.6061)" font-size="100">A</text>
<text transform="translate(1312.47,124.30) scale(0.5844,0.6061)" font-size="100">A</text>
<text transform="translate(1354.42,427.90) scale(0.5844,0.6061)" font-size="100">A</text>
<text transform="translate(1442.57,681.50) scale(0.5844,0.6061)" font-size="100">A</text>
<text transform="translate(1477.37,239.80) scale(0.5844,0.6061)" font-size="100">A</text>
<text transform="translate(1547.57,762.00) scale(0.5844,0.6061)" font-size="100">A</text>
<text transform="translate(1653.57,766.90) scale(0.5844,0.6061)" font-size="100">A</text>
<text transform="translate(1722.37,802.00) scale(0.5844,0.6061)" font-size="100">A</text>
<text transform="translate(1785.37,716.40) scale(0.5844,0.6061)" font-size="100">A</text>
<text transform="translate(1839.37,762.00) scale(0.5844,0.6061)" font-size="100">A</text>
<text transform="translate(1888.42,682.80) scale(0.5844,0.6061)" font-size="100">A</text>
<text transform="translate(2058.12,717.00) scale(0.5844,0.6061)" font-size="100">A</text>
<text transform="translate(993.41,160.40) scale(0.5774,0.6045)" font-size="100">ZSM-5</text>
<text transform="translate(492.12,844.88) rotate(-90) scale(0.5743,0.5822)" font-size="100">ZSM-5</text>
<text transform="translate(1426.70,681.10) rotate(-90) scale(0.5794,0.5970)" font-size="100">ZSM-5</text>
<text transform="translate(1970.91,818.28) rotate(-90) scale(0.5739,0.5926)" font-size="100">ZSM-5</text>
<text transform="translate(694.83,856.18) rotate(-90) scale(0.4917,0.4749)" font-size="100">sodalite</text>
<text transform="translate(1136.52,818.79) rotate(-90) scale(0.4951,0.4763)" font-size="100">sodalite</text>
<text transform="translate(91.89,82.83) scale(0.7393,0.7663)" font-size="100">15000</text>
<text transform="translate(106.87,372.83) scale(0.7414,0.7678)" font-size="100">10000</text>
<text transform="translate(128.54,664.03) scale(0.7409,0.7708)" font-size="100">5000</text>
<text transform="translate(248.77,961.42) scale(0.7711,0.7782)" font-size="100">0</text>
<text transform="translate(483.49,1002.73) scale(0.7392,0.7663)" font-size="100">10</text>
<text transform="translate(890.02,1006.93) scale(0.7576,0.7663)" font-size="100">20</text>
<text transform="translate(1294.31,1006.43) scale(0.7619,0.7708)" font-size="100">30</text>
<text transform="translate(1695.51,1008.22) scale(0.7400,0.7752)" font-size="100">40</text>
<text transform="translate(64.05,612.48) rotate(-90) scale(0.7427,0.7363)" font-size="100">Intensity (a.u.)</text>
<text transform="translate(1040.28,1049.54) scale(0.7324,0.7363)" font-size="100"><tspan font-style="italic">2θ</tspan> (°)</text>
</g>
</svg></body></html>
